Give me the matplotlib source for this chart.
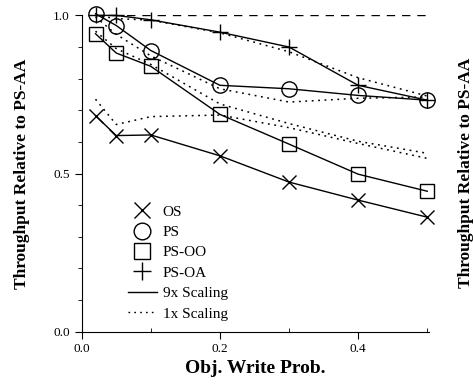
import matplotlib
matplotlib.use('Agg')
import matplotlib.pyplot as plt
from matplotlib.lines import Line2D
from matplotlib.ticker import MultipleLocator, FixedLocator

plt.rcParams['font.family'] = ['Liberation Serif', 'DejaVu Serif']

# Probabilités d'écriture
write_prob = [0.02, 0.05, 0.1, 0.2, 0.3, 0.4, 0.5]

# 9x scaling (traits pleins avec marqueurs)
os_9x = [0.683, 0.620, 0.622, 0.556, 0.473, 0.416, 0.362]
ps_9x = [1.005, 0.968, 0.889, 0.779, 0.768, 0.747, 0.732]
psoo_9x = [0.942, 0.881, 0.839, 0.687, 0.593, 0.498, 0.444]
psoa_9x = [1.0, 1.0, 0.986, 0.947, 0.900, 0.779, 0.732]

# 1x scaling (pointillés)
os_1x = [0.735, 0.655, 0.680, 0.685, 0.645, 0.595, 0.548]
ps_1x = [0.995, 0.940, 0.872, 0.768, 0.726, 0.738, 0.742]
psoo_1x = [0.950, 0.895, 0.845, 0.720, 0.658, 0.602, 0.564]
psoa_1x = [1.0, 0.990, 0.985, 0.945, 0.885, 0.803, 0.745]

# Référence PS-AA
ref_x = [0.02, 0.5]
ref_y = [1.0, 1.0]

fig = plt.figure(figsize=(4.73, 3.85), dpi=100)
ax = fig.add_axes([0.1727, 0.1385, 0.735, 0.8215])

ax.plot(ref_x, ref_y, color='black', lw=1.0, dashes=(6, 5))

dots = (1.2, 3.0)
for vals in [os_1x, ps_1x, psoo_1x, psoa_1x]:
    ax.plot(write_prob, vals, color='black', lw=1.1, dashes=dots)

styles = [(os_9x, 'x', 10), (ps_9x, 'o', 11), (psoo_9x, 's', 10), (psoa_9x, '+', 12)]
for vals, m, ms in styles:
    ax.plot(write_prob, vals, color='black', lw=1.0, marker=m, ms=ms,
            mfc='none', mec='black', mew=1.0, clip_on=False)

ax.set_xlim(0, 0.503)
ax.set_ylim(0, 1.0)
for side in ['top', 'right']:
    ax.spines[side].set_visible(False)

ax.xaxis.set_major_locator(FixedLocator([0.0, 0.2, 0.4]))
ax.xaxis.set_minor_locator(FixedLocator([0.1, 0.3, 0.5]))
ax.yaxis.set_major_locator(FixedLocator([0.0, 0.5, 1.0]))
ax.yaxis.set_minor_locator(MultipleLocator(0.1))
ax.set_xticklabels(['0.0', '0.2', '0.4'])
ax.set_yticklabels(['0.0', '0.5', '1.0'])
ax.tick_params(axis='both', which='major', direction='out', length=5, labelsize=9.5)
ax.tick_params(axis='y', which='minor', direction='out', length=3)
ax.tick_params(axis='x', which='minor', direction='in', length=3)

ax.set_xlabel('Obj. Write Prob.', fontsize=14, fontweight='bold', labelpad=3)
ax.set_ylabel('Throughput Relative to PS-AA', fontsize=12.5, fontweight='bold', labelpad=17)

# étiquette de la figure voisine, coupée au bord droit
fig.text(0.986, 0.55, 'Throughput Relative to PS-AA', rotation=90, ha='center',
         va='center', fontsize=12.5, fontweight='bold')

handles = [
    Line2D([], [], ls='none', marker='x', ms=11, mec='black', mew=1.0),
    Line2D([], [], ls='none', marker='o', ms=12, mfc='none', mec='black', mew=1.0),
    Line2D([], [], ls='none', marker='s', ms=11, mfc='none', mec='black', mew=1.0),
    Line2D([], [], ls='none', marker='+', ms=13, mec='black', mew=1.0),
    Line2D([], [], color='black', lw=1.0),
    Line2D([], [], color='black', lw=1.0, dashes=dots),
]
labels = ['OS', 'PS', 'PS-OO', 'PS-OA', '9x Scaling', '1x Scaling']
ax.legend(handles, labels, loc='upper left', bbox_to_anchor=(0.11, 0.425),
          frameon=False, fontsize=11, handlelength=1.9, handletextpad=0.4,
          labelspacing=0.44, borderpad=0)

fig.savefig('out.png', dpi=100)
plt.close(fig)
